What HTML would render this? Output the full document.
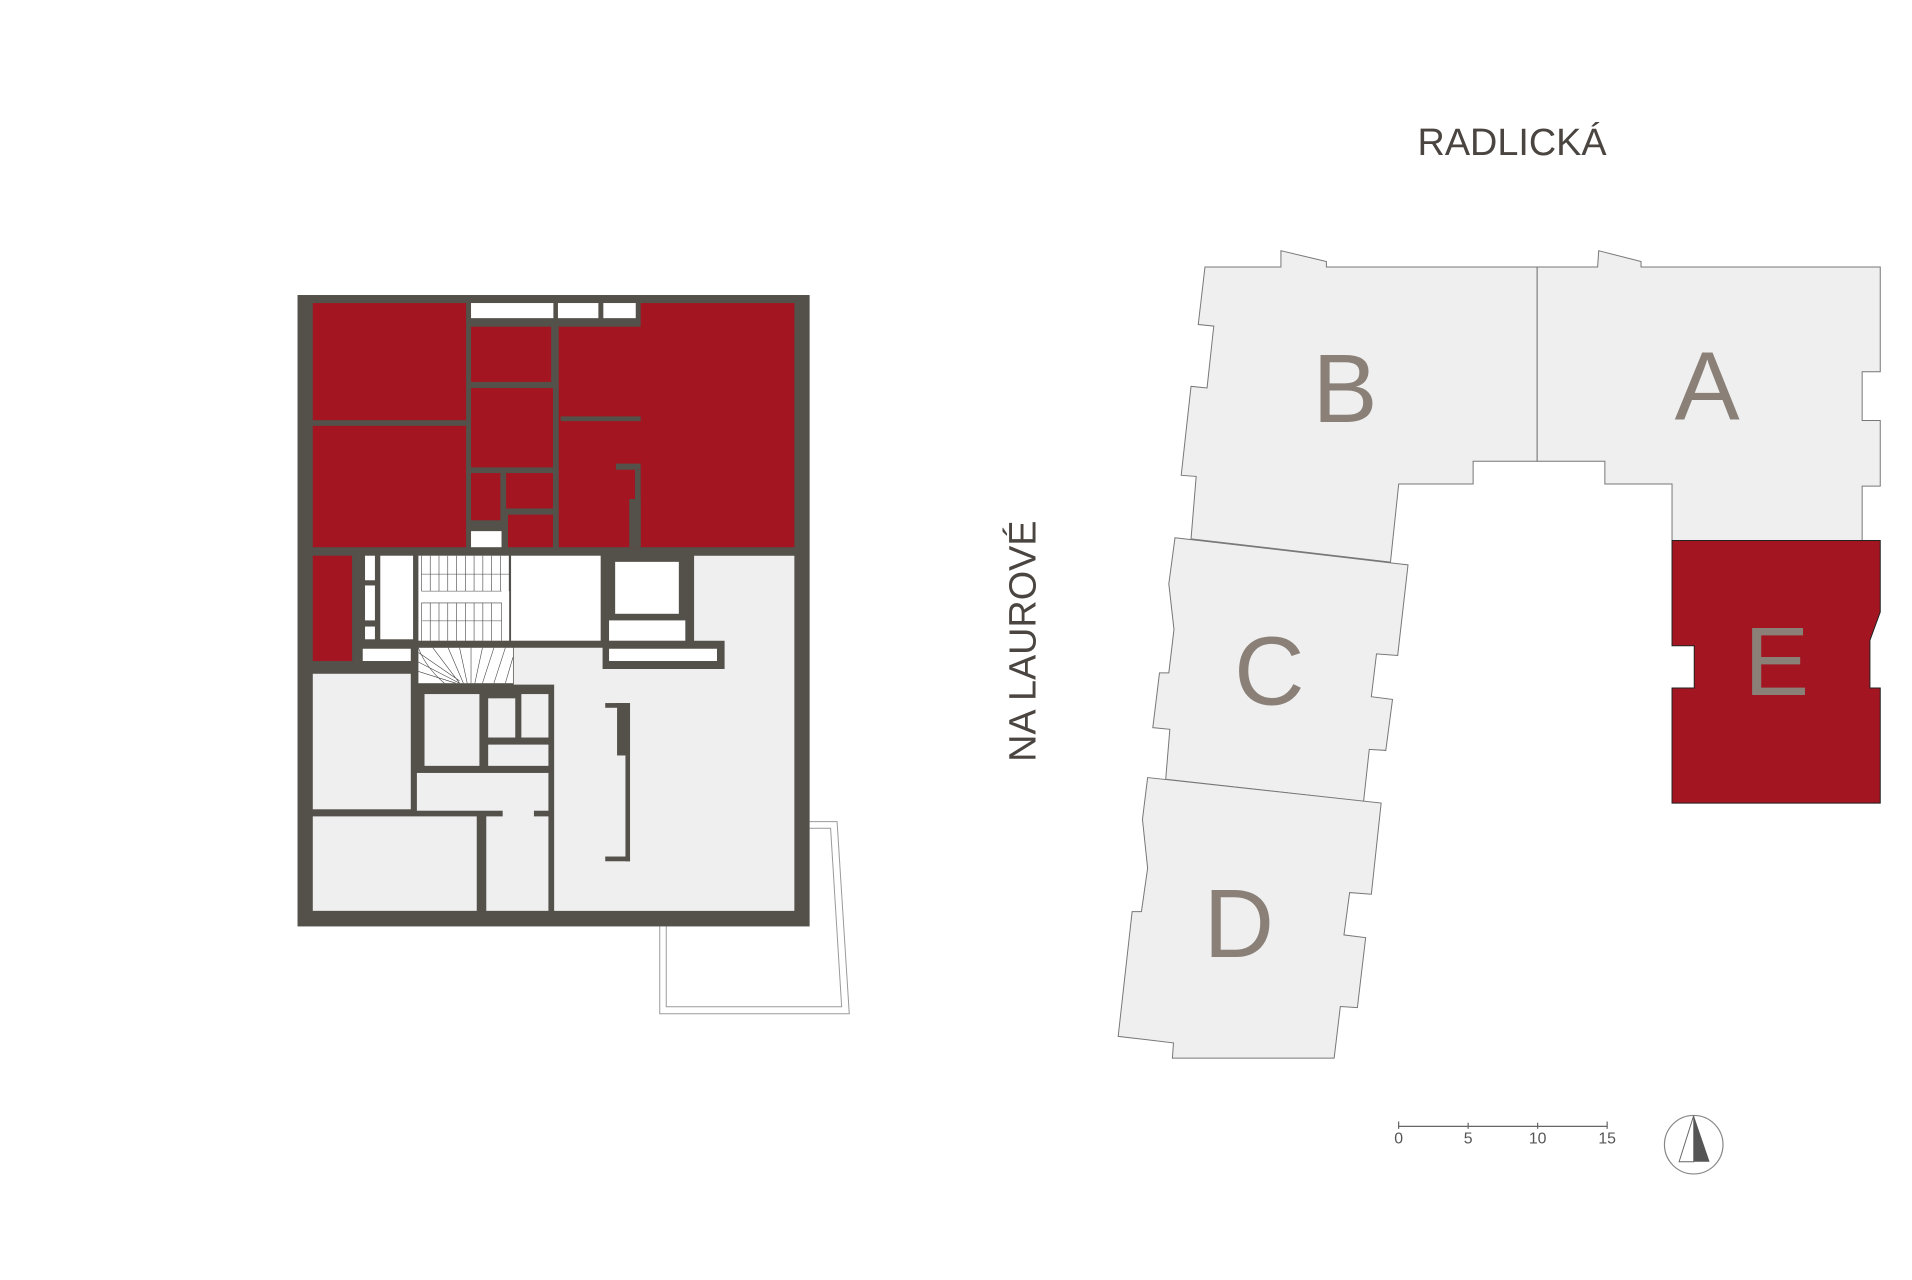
<!DOCTYPE html>
<html><head><meta charset="utf-8"><style>
html,body{margin:0;padding:0;background:#fff;width:1912px;height:1280px;overflow:hidden}
svg{display:block}
</style></head><body>
<svg width="1912" height="1280" viewBox="0 0 1568 1050" preserveAspectRatio="none" xmlns="http://www.w3.org/2000/svg">
<rect width="1568" height="1050" fill="#fff"/>
<!-- Floor plan -->
<g transform="translate(229.93,229.22) scale(0.3127,0.3874)">
 <g fill="none" stroke="#9a9a9a" stroke-width="1" vector-effect="non-scaling-stroke">
  <polyline vector-effect="non-scaling-stroke" points="1388,1148 1460,1148 1492,1555 995,1555 995,1370"/>
  <polyline vector-effect="non-scaling-stroke" points="1388,1162 1443,1162 1472,1540 1012,1540 1012,1370"/>
 </g>
 <rect x="45" y="33" width="1343" height="1337" fill="#54504a"/>
 <g fill="#a31621">
  <rect x="85" y="50" width="402" height="248"/>
  <rect x="85" y="310" width="402" height="257"/>
  <rect x="500" y="100" width="210" height="117"/>
  <rect x="500" y="230" width="215" height="168"/>
  <rect x="500" y="410" width="77" height="100"/>
  <rect x="592" y="410" width="123" height="75"/>
  <rect x="597" y="498" width="118" height="69"/>
  <rect x="730" y="100" width="618" height="467"/>
  <rect x="945" y="50" width="403" height="60"/>
  <rect x="85" y="585" width="103" height="223"/>
 </g>
 <g fill="#54504a">
  <rect x="735" y="290" width="210" height="10"/>
  <rect x="880" y="390" width="65" height="13"/>
  <rect x="930" y="403" width="15" height="164"/>
  <rect x="915" y="465" width="30" height="102"/>
 </g>
 <g fill="#fff">
  <rect x="500" y="50" width="216" height="32"/>
  <rect x="728" y="50" width="106" height="32"/>
  <rect x="847" y="50" width="85" height="32"/>
  <rect x="500" y="533" width="80" height="34"/>
  <rect x="222" y="585" width="26" height="52"/>
  <rect x="222" y="648" width="26" height="74"/>
  <rect x="222" y="735" width="26" height="27"/>
  <rect x="262" y="585" width="86" height="177"/>
  <rect x="362" y="585" width="238" height="180"/>
  <rect x="605" y="585" width="235" height="180"/>
  <rect x="878" y="598" width="167" height="110"/>
  <rect x="862" y="722" width="200" height="43"/>
  <rect x="862" y="782" width="283" height="26"/>
  <rect x="216" y="782" width="126" height="26"/>
  <rect x="362" y="780" width="248" height="75"/>
 </g>
 <g fill="#efefef">
  <polygon points="612,780 845,780 845,825 1165,825 1165,765 1085,765 1085,585 1348,585 1348,1337 718,1337 718,858 612,858"/>
  <rect x="85" y="835" width="257" height="287"/>
  <rect x="85" y="1137" width="430" height="200"/>
  <rect x="540" y="1137" width="163" height="200"/>
  <rect x="583" y="1120" width="82" height="20"/>
  <rect x="358" y="1045" width="345" height="80"/>
  <rect x="378" y="878" width="144" height="152"/>
  <rect x="545" y="887" width="71" height="83"/>
  <rect x="632" y="878" width="71" height="92"/>
  <rect x="545" y="985" width="158" height="45"/>
 </g>
 <g fill="#54504a">
  <rect x="852" y="897" width="65" height="10"/>
  <rect x="883" y="897" width="34" height="111"/>
  <rect x="905" y="1008" width="12" height="224"/>
  <rect x="852" y="1222" width="65" height="10"/>
 </g>
 <g stroke="#444" stroke-width="0.6" vector-effect="non-scaling-stroke" fill="none">
  <path vector-effect="non-scaling-stroke" d="M370 585V660M393 585V660M416 585V660M439 585V660M462 585V660M485 585V660M508 585V660M531 585V660M554 585V660M577 585V660M600 585V660M370 660H580M370 685H580V765M370 685V765M393 685V765M416 685V765M439 685V765M462 685V765M485 685V765M508 685V765M531 685V765M554 685V765M370 624H600M372 723H580"/>
  <path vector-effect="non-scaling-stroke" d="M362 790L470 850M362 810L470 855M400 780L470 855M440 780L480 855M470 780L490 855M500 780L500 855M530 780L510 855M560 780L530 855M590 780L560 855M610 800L590 855M362 830L460 855M430 855Q380 820 362 780"/>
 </g>
</g>
<!-- Site plan -->
<g transform="translate(902.17,195.86) scale(0.4237,0.4451)" stroke="#777" stroke-width="1">
 <polygon vector-effect="non-scaling-stroke" fill="#efefef" points="203,52 350,52 350,22 438,42 438,52 846,52 846,410 722,410 722,452 578,452 562,596 176,553 186,438 157,436 176,272 207,275 220,161 190,158"/>
 <polygon vector-effect="non-scaling-stroke" fill="#efefef" points="846,52 963,52 965,22 1047,42 1047,52 1510,52 1510,245 1475,245 1475,335 1510,335 1510,456 1475,456 1475,556 1107,556 1107,452 977,452 977,410 846,410"/>
 <polygon vector-effect="non-scaling-stroke" fill="#efefef" points="145,551 596,601 576,768 535,765 525,844 566,849 553,943 521,941 510,1037 127,996 135,904 102,901 115,800 133,800 143,720 133,636"/>
 <polygon vector-effect="non-scaling-stroke" fill="#efefef" points="92,993 544,1040 525,1208 483,1205 472,1283 514,1288 498,1417 465,1415 453,1510 140,1510 142,1482 35,1470 62,1240 80,1240 92,1160 82,1070"/>
 <polygon vector-effect="non-scaling-stroke" fill="#a31621" stroke="#222" points="1107,556 1510,556 1510,688 1490,740 1490,828 1510,828 1510,1040 1107,1040 1107,828 1150,828 1150,750 1107,750"/>
</g>
<g font-family="Liberation Sans, sans-serif" fill="#8a8078" font-size="80" text-anchor="middle">
 <text x="1103" y="346">B</text>
 <text x="1400" y="344">A</text>
 <text x="1041" y="578">C</text>
 <text x="1016" y="785">D</text>
 <text x="1457" y="570">E</text>
</g>
<text x="1240" y="127" font-family="Liberation Sans, sans-serif" font-size="31" fill="#4a4540" text-anchor="middle">RADLICKÁ</text>
<text transform="translate(849,526) rotate(-90)" font-family="Liberation Sans, sans-serif" font-size="31" fill="#4a4540" text-anchor="middle">NA LAUROVÉ</text>
<!-- scale bar -->
<g stroke="#666" stroke-width="1">
 <line x1="1147" y1="924" x2="1318" y2="924"/>
 <line x1="1147" y1="920" x2="1147" y2="926"/>
 <line x1="1204" y1="921" x2="1204" y2="926"/>
 <line x1="1261" y1="921" x2="1261" y2="926"/>
 <line x1="1318" y1="920" x2="1318" y2="926"/>
</g>
<g font-family="Liberation Sans, sans-serif" font-size="13" fill="#555" text-anchor="middle">
 <text x="1147" y="938">0</text><text x="1204" y="938">5</text><text x="1261" y="938">10</text><text x="1318" y="938">15</text>
</g>
<circle cx="1389" cy="939" r="24" fill="none" stroke="#888" stroke-width="1"/>
<polygon points="1389,915 1377,953 1389,953" fill="#fff" stroke="#666" stroke-width="0.8"/>
<polygon points="1389,915 1402,953 1389,953" fill="#555"/>
</svg>
</body></html>
